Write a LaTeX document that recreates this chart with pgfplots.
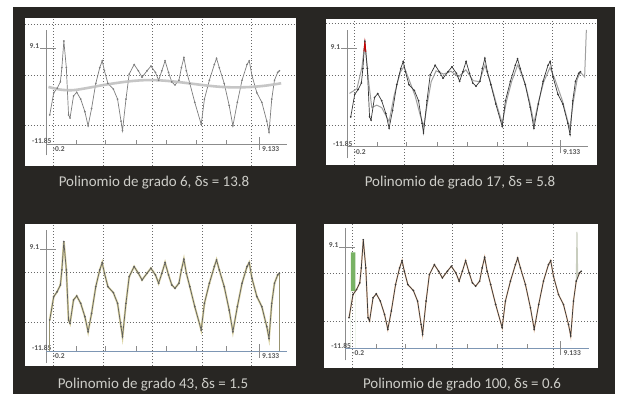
\documentclass[border=0pt]{standalone}
\usepackage{pgfplots}
\pgfplotsset{compat=1.18}
\usepackage{pgfplotstable}
\usepackage{fontspec}
\setmainfont{Carlito}
\definecolor{bgdark}{RGB}{40,38,35}
\definecolor{captext}{RGB}{205,205,200}
\definecolor{labcol}{RGB}{85,85,85}
\definecolor{gridcol}{RGB}{105,105,105}
\definecolor{axgray}{RGB}{140,140,140}
\definecolor{axblue}{RGB}{125,150,180}
\definecolor{dataone}{RGB}{125,125,125}
\definecolor{datadark}{RGB}{55,55,55}
\definecolor{fitone}{RGB}{192,192,192}
\definecolor{fittwo}{RGB}{160,160,160}
\definecolor{fitthree}{RGB}{218,210,160}
\definecolor{fitfour}{RGB}{228,170,125}
\definecolor{greenbar}{RGB}{120,178,100}
\definecolor{spikefour}{RGB}{200,205,190}

\pgfplotstableread{
x y
-0.15 -5.48
0.01 -0.69
0.15 0.33
0.28 1.71
0.34 4.79
0.42 10.6
0.52 4.79
0.61 -5.48
0.67 -6.16
0.81 -1.37
0.94 -0.55
1.10 -2.05
1.27 -4.8
1.40 -7.88
1.54 -4.10
1.71 1.36
1.87 4.79
1.97 6.29
2.06 4.11
2.20 1.36
2.42 0.13
2.59 -2.05
2.73 -6.85
2.79 -8.91
2.93 -2.05
3.06 3.41
3.26 5.47
3.43 4.11
3.58 2.73
3.78 4.11
3.94 5.14
4.12 3.76
4.25 2.06
4.38 4.11
4.51 6.29
4.65 3.76
4.78 1.71
4.91 1.03
5.07 2.06
5.17 4.79
5.27 6.99
5.37 4.11
5.51 1.36
5.71 -2.75
5.97 -7.53
6.10 -2.05
6.30 2.06
6.50 5.47
6.59 6.84
6.70 4.79
6.90 1.36
7.10 -3.43
7.25 -7.88
7.43 -2.75
7.62 2.06
7.82 5.47
7.91 6.29
8.02 3.08
8.22 -0.69
8.42 -2.75
8.62 -6.85
8.71 -9.24
8.82 -2.05
8.93 2.06
9.06 3.76
9.13 4.11
}\datatab

\pgfplotstableread{
x y
-0.2 0.6
0.3 0.0
0.8 -0.1
1.4 0.4
2.0 1.0
2.6 1.5
3.2 1.9
3.8 2.1
4.4 2.0
5.0 1.7
5.6 1.3
6.2 0.9
6.8 0.6
7.4 0.5
8.0 0.6
8.6 0.9
9.2 1.4
}\fitonetab

\pgfplotstableread{
x y
-0.2 -0.5
0.1 0.5
0.3 5.0
0.42 10.2
0.55 3.0
0.7 -3.5
0.9 -3.0
1.1 -3.5
1.4 -6.5
1.6 -1.0
1.85 4.0
2.0 5.2
2.2 2.5
2.45 -1.0
2.65 -5.0
2.8 -7.5
2.95 -2.5
3.1 2.0
3.3 4.3
3.6 3.6
3.9 4.2
4.2 3.0
4.5 4.5
4.8 2.2
5.05 2.0
5.27 5.5
5.5 1.8
5.75 -3.0
5.97 -6.8
6.15 -2.0
6.35 2.0
6.6 5.6
6.9 1.5
7.1 -2.8
7.25 -6.8
7.45 -2.0
7.65 2.0
7.9 5.0
8.1 2.5
8.4 -2.0
8.7 -8.0
8.85 -2.0
9.0 2.5
9.13 4.0
9.3 3.0
9.37 13.0
}\fittwotab

\pgfplotsset{
  panel/.style={
    scale only axis, anchor=south west,
    xmin=-1.15, xmax=9.8,
    axis background/.style={fill=white},
    axis line style={draw=none},
    xtick={0,2,4,6,8}, xticklabels={}, yticklabels={},
    major tick length=0pt,
    grid=major,
    grid style={draw=gridcol, line width=0.9pt, dash pattern=on 0.9pt off 2.1pt},
    clip=false,
  },
}
\tikzset{lab/.style={font=\fontsize{7.5}{8}\selectfont\bfseries, text=labcol, inner sep=0.5pt}}

\newcommand{\paneldeco}[2]{%
  \addplot[#1, line width=0.7pt] coordinates {(-0.3,-14.3) (-0.3,13)};
  \addplot[#1, line width=0.6pt] coordinates {(-0.55,9.1) (0.1,9.1)};
  \addplot[#2, line width=0.9pt] coordinates {(-0.3,-11.85) (9.45,-11.85)};
  \addplot[#1, line width=0.5pt, unbounded coords=jump] coordinates {
    (0.94,-11.85) (0.94,-10.9) (0.94,nan)
    (2.1,-11.85) (2.1,-10.9) (2.1,nan)
    (3.35,-11.85) (3.35,-10.9) (3.35,nan)
    (4.56,-11.85) (4.56,-10.9) (4.56,nan)
    (5.76,-11.85) (5.76,-10.9) (5.76,nan)
    (6.97,-11.85) (6.97,-10.9) (6.97,nan)
    (8.3,-13.2) (8.3,-10.3)};
  \node[lab, anchor=east] at (axis cs:-0.55,9.4) {9.1};
  \node[lab, anchor=south east] at (axis cs:-0.05,-11.95) {-11.85};
  \node[lab, anchor=north west] at (axis cs:-0.05,-12.2) {-0.2};
  \node[lab, anchor=north west] at (axis cs:8.4,-12.2) {9.133};
}

\begin{document}
\begin{tikzpicture}
\fill[white] (0bp,0bp) rectangle (623bp,394bp);
\fill[bgdark] (13bp,0bp) rectangle (615bp,387bp);

% Panel 1
\begin{axis}[panel, at={(25bp,228bp)}, width=271bp, height=148bp,
  ymin=-16.6, ymax=15.6, ytick={-7.7,3.2,14.25}]
\paneldeco{axgray}{axgray}
\addplot[dataone, line width=0.7pt, mark=*, mark size=0.45pt] table {\datatab};
\addplot[fitone, line width=2.6pt, smooth, opacity=0.9] table {\fitonetab};
\end{axis}

% Panel 2
\begin{axis}[panel, at={(326bp,229bp)}, width=271bp, height=146bp,
  ymin=-15.7, ymax=15.3, ytick={-7.2,3.4,14.27}]
\paneldeco{axgray}{axgray}
\addplot[fittwo, line width=1pt] table {\fittwotab};
\addplot[datadark, line width=0.7pt, mark=*, mark size=0.45pt] table {\datatab};
\addplot[red!80!black, line width=0.9pt] coordinates {(0.38,8.4) (0.42,10.4) (0.46,8.3)};
\end{axis}

% Panel 3
\begin{axis}[panel, at={(25bp,28bp)}, width=271bp, height=142bp,
  ymin=-14.9, ymax=14.2, ytick={-5.9,4.2}]
\paneldeco{axgray}{axblue}
\addplot[fitthree, line width=2pt] table {\datatab};
\addplot[fitthree!70!black, line width=0.8pt] coordinates {(-0.15,-11.85) (-0.15,-5.48)};
\addplot[fitthree!70!black, line width=0.8pt] coordinates {(9.13,4.11) (9.13,-11.85)};
\addplot[datadark!80!white, line width=0.7pt, mark=*, mark size=0.45pt] table {\datatab};
\end{axis}

% Panel 4
\begin{axis}[panel, at={(324bp,26bp)}, width=274bp, height=144bp,
  ymin=-15.85, ymax=13.85, ytick={-6.3,3.6}]
\paneldeco{axgray}{axblue}
\addplot[fill=greenbar, draw=none] coordinates {(-0.08,-11.85) (-0.08,8) (0.1,8) (0.1,-11.85)} \closedcycle;
\addplot[fitfour, line width=1.4pt, opacity=0.7] table {\datatab};
\addplot[spikefour, line width=1pt] coordinates {(8.93,2.06) (8.96,12.2) (8.99,2.8)};
\addplot[datadark, line width=0.7pt, mark=*, mark size=0.45pt] table {\datatab};
\end{axis}

\node[text=captext, font=\fontsize{15}{17}\selectfont] at (154bp,211bp) {Polinomio de grado 6, δs = 13.8};
\node[text=captext, font=\fontsize{15}{17}\selectfont] at (460bp,211bp) {Polinomio de grado 17, δs = 5.8};
\node[text=captext, font=\fontsize{15}{17}\selectfont] at (153bp,9bp) {Polinomio de grado 43, δs = 1.5};
\node[text=captext, font=\fontsize{15}{17}\selectfont] at (462bp,9bp) {Polinomio de grado 100, δs = 0.6};

\pgfresetboundingbox
\path (0bp,0bp) rectangle (623bp,394bp);
\end{tikzpicture}
\end{document}
